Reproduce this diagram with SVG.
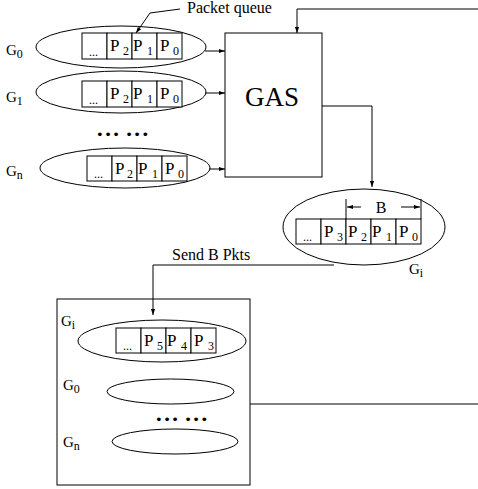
<svg xmlns="http://www.w3.org/2000/svg" width="478" height="489" viewBox="0 0 478 489">
<style>
text{font-family:"Liberation Serif","Times New Roman",serif;fill:#000}
.ln{fill:none;stroke:#000;stroke-width:1}
.cell{fill:#fff;stroke:#000;stroke-width:1}
.p{font-size:17px}
.s{font-size:12px}
.g{font-size:15px}
.gs{font-size:12px}
.el{font-size:12px}
.dots{font-family:"DejaVu Sans",sans-serif;font-size:13px;fill:#000}
.lbl{font-size:16px}
</style>
<defs>
<marker id="ah" viewBox="0 0 10 10" refX="10" refY="5" markerWidth="8" markerHeight="6" orient="auto" markerUnits="userSpaceOnUse">
<path d="M0,1.5 L10,5 L0,8.5 Z" fill="#000"/>
</marker>
</defs>
<rect width="478" height="489" fill="#fff"/>

<g id="connectors">
<line class="ln" x1="205" y1="51" x2="225" y2="51" marker-end="url(#ah)"/>
<line class="ln" x1="205" y1="93" x2="225" y2="93" marker-end="url(#ah)"/>
<line class="ln" x1="209" y1="169" x2="225" y2="169" marker-end="url(#ah)"/>
<polyline class="ln" points="478,9 297,9 297,33" marker-end="url(#ah)"/>
<polyline class="ln" points="322,106 372,106 372,187" marker-end="url(#ah)"/>
<polyline class="ln" points="334,265 153,265 153,315" marker-end="url(#ah)"/>
<line class="ln" x1="250" y1="404" x2="478" y2="404"/>
<polyline class="ln" points="180,9 150,13 136,33" marker-end="url(#ah)"/>
</g>

<g id="label-packet-queue">
<text class="lbl" x="187" y="13">Packet queue</text>
</g>

<g id="G0">
<ellipse class="ln" cx="121" cy="47" rx="85" ry="21"/>
<text class="g" x="6" y="55">G<tspan class="gs" dy="3">0</tspan></text>
<rect class="cell" x="82" y="33" width="25" height="26"/>
<rect class="cell" x="107" y="33" width="25" height="26"/>
<rect class="cell" x="132" y="33" width="25" height="26"/>
<rect class="cell" x="157" y="33" width="25" height="26"/>
<text class="el" x="89" y="56">...</text>
<text class="p" x="110" y="51">P<tspan class="s" x="123" dy="4">2</tspan></text>
<text class="p" x="133" y="51">P<tspan class="s" x="147" dy="4">1</tspan></text>
<text class="p" x="160" y="51">P<tspan class="s" x="173" dy="4">0</tspan></text>
</g>

<g id="G1">
<ellipse class="ln" cx="121" cy="92" rx="85" ry="21"/>
<text class="g" x="6" y="102">G<tspan class="gs" dy="3">1</tspan></text>
<rect class="cell" x="82" y="81" width="25" height="26"/>
<rect class="cell" x="107" y="81" width="25" height="26"/>
<rect class="cell" x="132" y="81" width="25" height="26"/>
<rect class="cell" x="157" y="81" width="25" height="26"/>
<text class="el" x="89" y="104">...</text>
<text class="p" x="110" y="99">P<tspan class="s" x="123" dy="4">2</tspan></text>
<text class="p" x="133" y="99">P<tspan class="s" x="147" dy="4">1</tspan></text>
<text class="p" x="160" y="99">P<tspan class="s" x="173" dy="4">0</tspan></text>
</g>

<g id="dots-top">
<text class="dots" x="96" y="139" letter-spacing="0.5">••• •••</text>
</g>

<g id="Gn">
<ellipse class="ln" cx="125" cy="168" rx="85" ry="20"/>
<text class="g" x="6" y="176">G<tspan class="gs" dy="3">n</tspan></text>
<rect class="cell" x="87" y="156" width="25" height="25"/>
<rect class="cell" x="112" y="156" width="25" height="25"/>
<rect class="cell" x="137" y="156" width="25" height="25"/>
<rect class="cell" x="162" y="156" width="25" height="25"/>
<text class="el" x="94" y="178">...</text>
<text class="p" x="115" y="174">P<tspan class="s" x="127" dy="4">2</tspan></text>
<text class="p" x="138" y="174">P<tspan class="s" x="152" dy="4">1</tspan></text>
<text class="p" x="165" y="174">P<tspan class="s" x="178" dy="4">0</tspan></text>
</g>

<g id="GAS">
<rect class="ln" x="225" y="33" width="97" height="144"/>
<text x="272" y="106" text-anchor="middle" style="font-size:27px">GAS</text>
</g>

<g id="Gi-out">
<ellipse class="ln" cx="364" cy="227" rx="81" ry="38"/>
<rect class="cell" x="296" y="219" width="25" height="25"/>
<rect class="cell" x="321" y="219" width="25" height="25"/>
<rect class="cell" x="346" y="219" width="25" height="25"/>
<rect class="cell" x="371" y="219" width="25" height="25"/>
<rect class="cell" x="396" y="219" width="25" height="25"/>
<text class="el" x="303" y="241">...</text>
<text class="p" x="324" y="237">P<tspan class="s" x="337" dy="4">3</tspan></text>
<text class="p" x="348" y="237">P<tspan class="s" x="361" dy="4">2</tspan></text>
<text class="p" x="372" y="237">P<tspan class="s" x="386" dy="4">1</tspan></text>
<text class="p" x="399" y="237">P<tspan class="s" x="412" dy="4">0</tspan></text>
<line class="ln" x1="346" y1="199" x2="346" y2="219"/>
<line class="ln" x1="421" y1="199" x2="421" y2="219"/>
<line class="ln" x1="361" y1="207" x2="347" y2="207" marker-end="url(#ah)"/>
<line class="ln" x1="401" y1="207" x2="420" y2="207" marker-end="url(#ah)"/>
<text x="381" y="213" text-anchor="middle" style="font-size:16px">B</text>
<text class="g" x="409" y="274">G<tspan class="gs" dy="3">i</tspan></text>
</g>

<g id="label-send">
<text class="lbl" x="172" y="260">Send B Pkts</text>
</g>

<g id="buffer">
<rect class="ln" x="57" y="299" width="193" height="186"/>
<text class="g" x="61" y="326">G<tspan class="gs" dy="3">i</tspan></text>
<ellipse class="ln" cx="162" cy="341" rx="84" ry="21"/>
<rect class="cell" x="116" y="328" width="25" height="25"/>
<rect class="cell" x="141" y="328" width="25" height="25"/>
<rect class="cell" x="166" y="328" width="25" height="25"/>
<rect class="cell" x="191" y="328" width="25" height="25"/>
<text class="el" x="123" y="350">...</text>
<text class="p" x="144" y="346">P<tspan class="s" x="157" dy="4">5</tspan></text>
<text class="p" x="167" y="346">P<tspan class="s" x="181" dy="4">4</tspan></text>
<text class="p" x="194" y="346">P<tspan class="s" x="208" dy="4">3</tspan></text>
<text class="g" x="63" y="390">G<tspan class="gs" dy="3">0</tspan></text>
<ellipse class="ln" cx="170.5" cy="391.5" rx="63.5" ry="12.5"/>
<text class="dots" x="155" y="424" letter-spacing="0.5">••• •••</text>
<text class="g" x="63" y="447">G<tspan class="gs" dy="3">n</tspan></text>
<ellipse class="ln" cx="175" cy="441.5" rx="63" ry="12.5"/>
</g>
</svg>
